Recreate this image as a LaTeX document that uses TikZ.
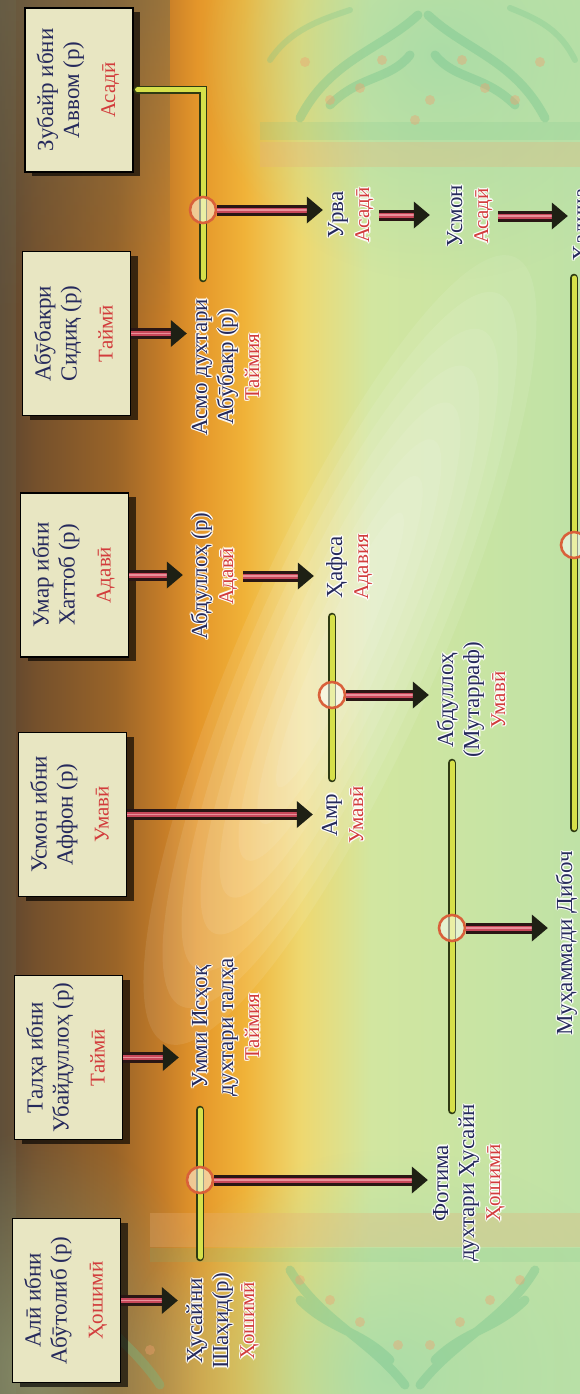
\documentclass[tikz,border=0pt]{standalone}
\usepackage{fontspec}
\setmainfont{Liberation Serif}
\usetikzlibrary{arrows.meta,shadows,fadings}
\definecolor{bgA}{HTML}{5A4430}
\definecolor{bgB}{HTML}{74502C}
\definecolor{bgC}{HTML}{9A6428}
\definecolor{bgD}{HTML}{C47C28}
\definecolor{bgE}{HTML}{E4962A}
\definecolor{bgF}{HTML}{F0B238}
\definecolor{bgG}{HTML}{EED870}
\definecolor{bgH}{HTML}{D2E6A0}
\definecolor{bgI}{HTML}{BFE2A6}
\definecolor{ornleft}{HTML}{6E6A50}
\definecolor{ornleftg}{HTML}{8E9E78}
\definecolor{orngreen}{HTML}{A6DBA8}
\definecolor{ornline}{HTML}{6CC08A}
\definecolor{orndot}{HTML}{F0A070}
\definecolor{ornband}{HTML}{E6B07A}
\definecolor{namecol}{HTML}{262A5C}
\definecolor{tribecol}{HTML}{D23C3C}
\definecolor{boxfill}{HTML}{E8E6C2}
\definecolor{bardark}{HTML}{2E3A12}
\definecolor{baryel}{HTML}{D6E04A}
\definecolor{arrdark}{HTML}{2A1614}
\definecolor{arrred}{HTML}{C8485A}
\definecolor{arrpink}{HTML}{E8909A}
\definecolor{tipcol}{HTML}{1E2014}
\definecolor{ringcol}{HTML}{D9603A}
\pgfdeclarehorizontalshading{bgh}{100bp}{color(0bp)=(bgA); color(25bp)=(bgA); color(28bp)=(bgB); color(35bp)=(bgC); color(39bp)=(bgD); color(42bp)=(bgE); color(46bp)=(bgF); color(51bp)=(bgG); color(57bp)=(bgH); color(75bp)=(bgI); color(100bp)=(bgI)}
\tikzfading[name=fadedown, top color=transparent!0, bottom color=transparent!100]
\tikzfading[name=softblob, inner color=transparent!0, outer color=transparent!100]
\newcommand\tribecolor{tribecol}
\newcommand\vtxt[1]{\rotatebox{90}{\begin{tabular}{@{}c@{}}#1\end{tabular}}}
\newcommand\tribe[1]{{\fontsize{21}{22}\selectfont\color{\tribecolor}#1}}
\newcommand\descarrow[3][0]{%
  \path (#2) -- (#3) coordinate[pos=1, xshift=-#1pt] (dtip);
  \draw[descout] (#2) -- (dtip);
  \draw[descin] (#2) -- (dtip);
  \draw[desclight] (#2) -- (dtip);
  \fill[tipcol] (dtip) -- ++(-16,13.5) -- ++(0,-27) -- cycle;}
\newcommand\person[3]{%
  \foreach \dx/\dy in {1.3/0,-1.3/0,0/1.3,0/-1.3,0.9/0.9,-0.9/0.9,0.9/-0.9,-0.9/-0.9}
    {\node[person, text=white, opacity=0.85, xshift=\dx pt, yshift=\dy pt] at (#2) {\def\tribecolor{white}#3};}
  \node[person] (#1) at (#2) {#3};}
\tikzset{
  famebox/.style={draw=black, line width=1.2pt, fill=boxfill, minimum width=108pt,
    minimum height=164pt, inner sep=0pt, text=namecol, font=\fontsize{23}{26}\selectfont,
    drop shadow={shadow xshift=7pt, shadow yshift=-4pt, opacity=0.65, fill=black}},
  person/.style={inner sep=2pt, text=namecol, font=\fontsize{23}{26}\selectfont},
  couplebar/.style={draw=bardark, line width=1.8pt, double=baryel, double distance=5pt,
    line cap=round, line join=miter},
  joint/.style={circle, minimum size=26pt, inner sep=0pt, draw=ringcol, line width=2.6pt,
    fill=white, fill opacity=0.5, draw opacity=1},
  descout/.style={draw=arrdark, line width=11pt, shorten >=15pt},
  descin/.style={draw=arrred, line width=5pt, shorten >=15pt},
  desclight/.style={draw=arrpink, line width=1.2pt, shorten >=15pt}
}
\begin{document}
\begin{tikzpicture}[x=1pt, y=-1pt]
\useasboundingbox (0,0) rectangle (580,1394);
% ---------- background ----------
\shade[shading=bgh] (0,0) rectangle (580,1394);
\fill[ornleft, opacity=0.5, path fading=fadedown] (0,0) rectangle (170,320);
\fill[ornleft, opacity=0.3] (0,0) rectangle (16,1394);
\fill[ornleftg, opacity=0.75, path fading=softblob] (-160,1130) rectangle (230,1620);
\foreach \k in {1,...,8} {
  \fill[white, opacity=0.085, rotate around={66:(340,650)}] (340,650) ellipse [x radius={110+40*\k}, y radius={10+11*\k}];
}
\fill[orngreen, opacity=0.85, path fading=softblob] (200,-170) rectangle (680,280);
\fill[orngreen, opacity=0.85, path fading=softblob] (120,1150) rectangle (660,1600);
\fill[ornband, opacity=0.3] (260,142) rectangle (580,167);
\fill[ornline, opacity=0.15] (260,122) rectangle (580,140);
\fill[ornband, opacity=0.3] (150,1213) rectangle (580,1247);
\fill[ornline, opacity=0.15] (150,1248) rectangle (580,1262);
% top ornament
\draw[ornline, opacity=0.35, line width=9pt, line cap=round]
  (300,118) .. controls (330,60) and (380,50) .. (418,15)
  (545,118) .. controls (515,60) and (465,50) .. (428,15)
  (330,105) .. controls (360,75) and (390,80) .. (410,55)
  (515,105) .. controls (485,75) and (455,80) .. (435,55);
\draw[ornline, opacity=0.25, line width=6pt, line cap=round]
  (270,60) .. controls (290,30) and (320,20) .. (350,10)
  (575,60) .. controls (560,30) and (540,20) .. (510,8);
\foreach \p in {(305,62),(330,100),(360,88),(382,60),(462,60),(485,88),(515,100),(540,62),(430,100),(415,120)}
  \fill[orndot, opacity=0.4] \p circle[radius=5];
% bottom ornament
\draw[ornline, opacity=0.35, line width=9pt, line cap=round]
  (290,1270) .. controls (320,1320) and (370,1340) .. (405,1385)
  (535,1270) .. controls (505,1320) and (455,1340) .. (420,1385)
  (60,1270) .. controls (90,1320) and (130,1340) .. (160,1385)
  (300,1300) .. controls (330,1330) and (360,1330) .. (390,1360)
  (525,1300) .. controls (495,1330) and (465,1330) .. (435,1360);
\foreach \p in {(300,1280),(330,1300),(360,1322),(398,1345),(520,1280),(490,1300),(460,1322),(430,1345),(120,1300),(80,1330),(150,1350)}
  \fill[orndot, opacity=0.4] \p circle[radius=5];
% ---------- coordinates ----------
\coordinate (b1end) at (203,278);
\coordinate (b2top) at (332,617);
\coordinate (b2bot) at (332,778);
\coordinate (b3top) at (452,763);
\coordinate (b3bot) at (452,1110);
\coordinate (b4top) at (200,1110);
\coordinate (b4bot) at (200,1257);
\coordinate (b5top) at (574,278);
\coordinate (b5bot) at (574,828);
% ---------- boxes ----------
\node[famebox] (box1) at (79,90) {\vtxt{Зубайр ибни\\Аввом (р)\\[10pt]\tribe{Асадӣ}}};
\node[famebox] (box2) at (76.5,333.5) {\vtxt{Абӯбакри\\Сидиқ (р)\\[10pt]\tribe{Таймӣ}}};
\node[famebox] (box3) at (74.5,575) {\vtxt{Умар ибни\\Хаттоб (р)\\[10pt]\tribe{Адавӣ}}};
\node[famebox] (box4) at (72.5,814.5) {\vtxt{Усмон ибни\\Аффон (р)\\[10pt]\tribe{Умавӣ}}};
\node[famebox] (box5) at (68.5,1057.5) {\vtxt{Талҳа ибни\\Убайдуллоҳ (р)\\[10pt]\tribe{Таймӣ}}};
\node[famebox] (box6) at (66.5,1300.5) {\vtxt{Алӣ ибни\\Абӯтолиб (р)\\[10pt]\tribe{Ҳошимӣ}}};
% ---------- text nodes ----------
\person{asmo}{228,367}{\vtxt{Асмо духтари\\Абӯбакр (р)\\\tribe{Таймия}}}
\person{abd}{215,576}{\vtxt{Абдуллоҳ (р)\\\tribe{Адавӣ}}}
\person{hafsa}{350,567}{\vtxt{Ҳафса\\\tribe{Адавия}}}
\person{amr}{345,815}{\vtxt{Амр\\\tribe{Умавӣ}}}
\person{urva}{351,215}{\vtxt{Урва\\\tribe{Асадӣ}}}
\person{usmon}{470,216}{\vtxt{Усмон\\\tribe{Асадӣ}}}
\person{khadija}{583,225}{\vtxt{Хадича}}
\person{mutarraf}{474,700}{\vtxt{Абдуллоҳ\\(Мутарраф)\\\tribe{Умавӣ}}}
\person{ummi}{228,1027}{\vtxt{Умми Исҳоқ\\духтари талҳа\\\tribe{Таймия}}}
\person{husayn}{223,1321}{\vtxt{Ҳусайни\\Шаҳид(р)\\\tribe{Ҳошимӣ}}}
\person{fotima}{469,1183}{\vtxt{Фотима\\духтари Ҳусайн\\\tribe{Ҳошимӣ}}}
\person{diboch}{567,943}{\vtxt{Муҳаммади Дибоч}}
% ---------- couple bars ----------
\draw[couplebar, shorten <=4pt] (box1.east) -| (b1end);
\draw[couplebar] (b2top) -- (b2bot);
\draw[couplebar] (b3top) -- (b3bot);
\draw[couplebar] (b4top) -- (b4bot);
\draw[couplebar] (b5top) -- (b5bot);
% ---------- joints ----------
\node[joint] (c1) at (203,210) {};
\node[joint] (c2) at (332,695) {};
\node[joint] (c3) at (452,928) {};
\node[joint] (c4) at (200,1180) {};
\node[joint] (c5) at (574,545) {};
% ---------- descent arrows ----------
\descarrow{c1.east}{c1.east -| urva.west}
\descarrow{box2.east}{box2.east -| asmo.west}
\descarrow[12]{urva.east}{urva.east -| usmon.west}
\descarrow{usmon.east}{usmon.east -| khadija.west}
\descarrow[4]{box3.east}{box3.east -| abd.west}
\descarrow[8]{abd.east}{abd.east -| hafsa.west}
\descarrow[4]{box4.east}{box4.east -| amr.west}
\descarrow[4]{c2.east}{c2.east -| mutarraf.west}
\descarrow[4]{c3.east}{c3.east -| diboch.west}
\descarrow[8]{box5.east}{box5.east -| ummi.west}
\descarrow[4]{box6.east}{box6.east -| husayn.west}
\descarrow{c4.east}{c4.east -| fotima.west}
\end{tikzpicture}
\end{document}
